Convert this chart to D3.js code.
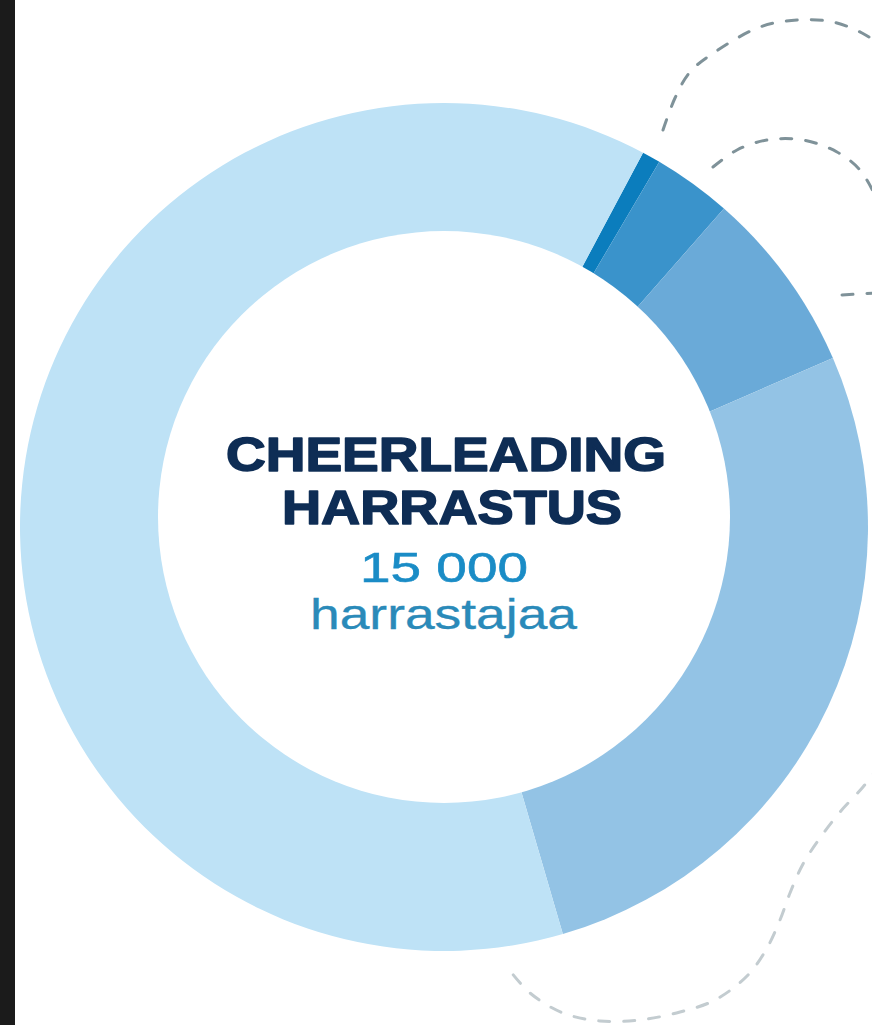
<!DOCTYPE html>
<html>
<head>
<meta charset="utf-8">
<script src="https://cdn.jsdelivr.net/npm/d3@7"></script>
<style>
  html, body { margin: 0; padding: 0; background: #ffffff; }
  svg { display: block; }
</style>
</head>
<body>
<svg id="chart" width="872" height="1025"></svg>
<script>
// ---- data (shares of the ring, clockwise from ~28° past 12 o'clock) ----
const categories = ["Segmentti 1", "Segmentti 2", "Segmentti 3", "Segmentti 4", "Segmentti 5"];
const shares     = [0.7, 3.0, 7.0, 27.0, 62.3];
const colors     = ["#0b7dbd", "#3a93cb", "#6aaad8", "#93c3e5", "#bee2f6"];
const titleLines = ["CHEERLEADING", "HARRASTUS"];
const totalLabel = "15 000";
const unitLabel  = "harrastajaa";

// decorative dashed swirls (not data)
const decorUpper = [
  [[663,130],[675,98],[690,72],[715,52],[760,27],[797,20],[833,22],[862,33],[885,48]],
  [[713,167],[737,150],[767,140],[803,140],[837,152],[860,170],[875,195]],
  [[842,295],[875,293]]
];
const decorLower = [
  [[880,765],[863,787],[840,812],[820,838],[803,864],[790,893],[780,920],[767,948],[748,975],[715,1000],[680,1012],[640,1020],[600,1021],[563,1013],[530,993],[507,967]]
];

const svg = d3.select("#chart");
const W = 872, H = 1025;

// dark strip on the left edge
svg.append("rect").attr("x", 0).attr("y", 0).attr("width", 15).attr("height", H).attr("fill", "#1b1b1b");

// decorative dashed lines
const line = d3.line().curve(d3.curveCatmullRom.alpha(0.5));
svg.append("g").selectAll("path").data(decorUpper).join("path")
  .attr("d", line).attr("fill", "none").attr("stroke", "#7f9299")
  .attr("stroke-width", 3).attr("stroke-dasharray", "11 14").attr("stroke-linecap", "round");
svg.append("g").selectAll("path").data(decorLower).join("path")
  .attr("d", line).attr("fill", "none").attr("stroke", "#c3ccd0")
  .attr("stroke-width", 3).attr("stroke-dasharray", "11 14").attr("stroke-linecap", "round");

// donut
const cx = 444, cy = 527, rOuter = 424;
const holeCx = 444, holeCy = 517, rInner = 286;
const start = 28 * Math.PI / 180;
const pie = d3.pie().sort(null).value(d => d.v).startAngle(start).endAngle(start + 2 * Math.PI);
const arc = d3.arc().innerRadius(0).outerRadius(rOuter);
const data = categories.map((c, i) => ({ c, v: shares[i], col: colors[i] }));

const g = svg.append("g").attr("transform", `translate(${cx},${cy})`);
g.selectAll("path").data(pie(data)).join("path")
  .attr("d", arc)
  .attr("fill", d => d.data.col);

// centre hole
svg.append("circle").attr("cx", holeCx).attr("cy", holeCy).attr("r", rInner).attr("fill", "#ffffff");

// centre texts
const font = "'Liberation Sans', Arial, Helvetica, sans-serif";
svg.append("text").attr("text-anchor", "middle")
  .attr("x", 446).attr("y", 471).attr("font-size", 48)
  .attr("font-family", font).attr("font-weight", 700)
  .attr("fill", "#0e2d55").attr("stroke", "#0e2d55").attr("stroke-width", 1.6)
  .attr("stroke-linejoin", "round")
  .attr("textLength", 440).attr("lengthAdjust", "spacingAndGlyphs").text(titleLines[0]);
svg.append("text").attr("text-anchor", "middle")
  .attr("x", 452).attr("y", 524).attr("font-size", 48)
  .attr("font-family", font).attr("font-weight", 700)
  .attr("fill", "#0e2d55").attr("stroke", "#0e2d55").attr("stroke-width", 1.6)
  .attr("stroke-linejoin", "round")
  .attr("textLength", 340).attr("lengthAdjust", "spacingAndGlyphs").text(titleLines[1]);

svg.append("text").attr("text-anchor", "middle")
  .attr("x", 444).attr("y", 582).attr("font-size", 42)
  .attr("font-family", font).attr("font-weight", 400)
  .attr("fill", "#1a8cc6").attr("stroke", "#1a8cc6").attr("stroke-width", 0.6)
  .attr("textLength", 168).attr("lengthAdjust", "spacingAndGlyphs").text(totalLabel);
svg.append("text").attr("text-anchor", "middle")
  .attr("x", 443.5).attr("y", 629).attr("font-size", 42)
  .attr("font-family", font).attr("font-weight", 400)
  .attr("fill", "#2a8ab9").attr("stroke", "#2a8ab9").attr("stroke-width", 0.3)
  .attr("textLength", 267).attr("lengthAdjust", "spacingAndGlyphs").text(unitLabel);
</script>
</body>
</html>
